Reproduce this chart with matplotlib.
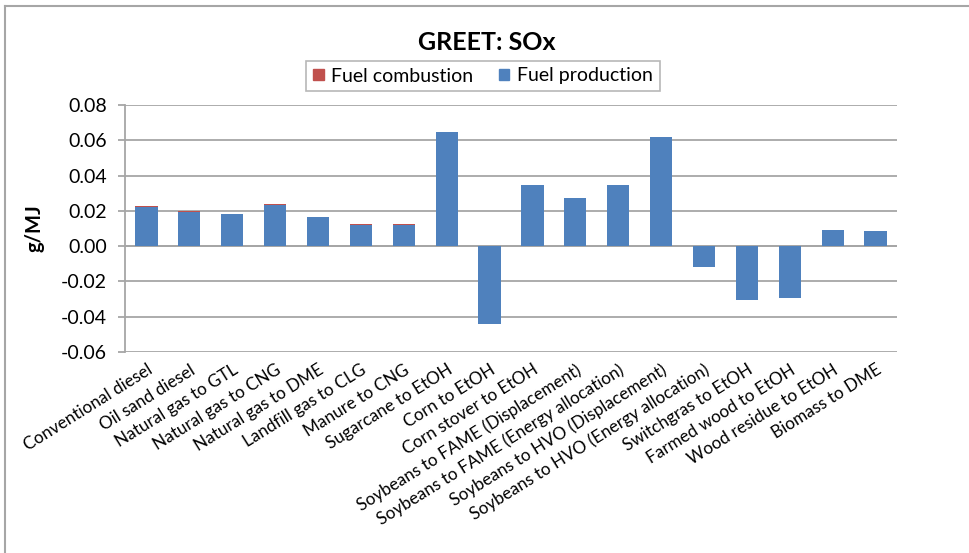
import numpy as np
import matplotlib
matplotlib.use("Agg")
import matplotlib.pyplot as plt
from matplotlib.lines import Line2D

plt.rcParams['font.family'] = ['Lato', 'DejaVu Sans']

pathways = ["Conventional diesel", "Oil sand diesel", "Natural gas to GTL",
            "Natural gas to CNG", "Natural gas to DME", "Landfill gas to CLG",
            "Manure to CNG", "Sugarcane to EtOH", "Corn to EtOH",
            "Corn stover to EtOH", "Soybeans to FAME (Displacement)",
            "Soybeans to FAME (Energy allocation)", "Soybeans to HVO (Displacement)",
            "Soybeans to HVO (Energy allocation)", "Switchgras to EtOH",
            "Farmed wood to EtOH", "Wood residue to EtOH", "Biomass to DME"]

fuel_production = [0.0222, 0.0195, 0.0180, 0.0232, 0.0168, 0.0120, 0.0120,
                   0.0645, -0.0444, 0.0346, 0.0274, 0.0346, 0.0620, -0.0119,
                   -0.0304, -0.0295, 0.0089, 0.0083]
fuel_combustion = [0.0006, 0.0005, 0.0, 0.0006, 0.0, 0.0005, 0.0005,
                   0.0, 0.0, 0.0, 0.0, 0.0, 0.0, 0.0,
                   0.0, 0.0, 0.0, 0.0]

blue = "#4F81BD"
red = "#C0504D"

fig = plt.figure(figsize=(9.69, 5.53), dpi=100)
ax = fig.add_axes([125 / 969, 1 - 352 / 553, (897 - 125) / 969, (352 - 105) / 553])

x = np.arange(len(pathways))
prod = np.array(fuel_production)
comb = np.array(fuel_combustion)
ax.bar(x, prod, width=0.52, color=blue, zorder=3)
ax.bar(x, comb, width=0.52, bottom=np.where(prod > 0, prod, 0), color=red, zorder=3)

ax.set_xlim(-0.5, len(pathways) - 0.5)
ax.set_ylim(-0.06, 0.08)
yt = np.arange(-0.06, 0.0801, 0.02)
ax.set_yticks(yt)
ax.set_yticklabels(["%.2f" % v for v in yt], fontsize=14)
ax.yaxis.grid(True, color="#A6A6A6", linewidth=1.3, zorder=0)
ax.axhline(0, color="#A6A6A6", linewidth=1.3, zorder=1)

for s in ["top", "right", "bottom"]:
    ax.spines[s].set_visible(False)
ax.spines["left"].set_color("#A6A6A6")
ax.spines["left"].set_linewidth(1.3)
ax.tick_params(axis="y", length=5, color="#A6A6A6", width=1.3, pad=8)

ax.set_xticks(x)
ax.set_xticklabels(pathways, rotation=32, ha="right", rotation_mode="anchor", fontsize=12.3)
ax.tick_params(axis="x", length=0, pad=7)

ax.set_ylabel("g/MJ", fontsize=14.5, fontweight="bold", labelpad=12)

fig.text(487 / 969, 1 - 43 / 553, "GREET: SOx", ha="center", va="center",
         fontsize=18, fontweight="bold")

handles = [plt.Rectangle((0, 0), 1, 1, color=red), plt.Rectangle((0, 0), 1, 1, color=blue)]
leg = fig.legend(handles, ["Fuel combustion", "Fuel production"], loc="center",
                 bbox_to_anchor=(483 / 969, 1 - 76 / 553), ncol=2, fontsize=14,
                 frameon=True, fancybox=False, edgecolor="#A6A6A6",
                 handlelength=0.55, handleheight=0.55, handletextpad=0.4,
                 columnspacing=1.3, borderpad=0.35, borderaxespad=0)
leg.get_frame().set_linewidth(1.2)

# outer chart border
fig.add_artist(Line2D([5 / 969, 5 / 969], [0, 1 - 6 / 553], transform=fig.transFigure,
                      color="#A6A6A6", linewidth=1.5))
fig.add_artist(Line2D([5 / 969, 1], [1 - 6 / 553, 1 - 6 / 553], transform=fig.transFigure,
                      color="#A6A6A6", linewidth=1.5))

fig.savefig("out.png", dpi=100)
